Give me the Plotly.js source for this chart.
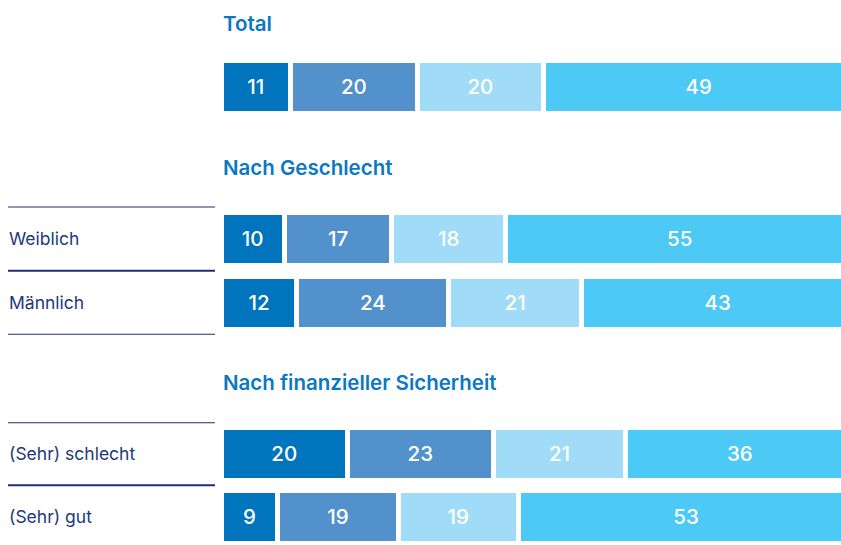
<!DOCTYPE html>
<html>
<head>
<meta charset="utf-8">
<script src="https://cdn.plot.ly/plotly-3.0.1.min.js"></script>
<style>html,body{margin:0;padding:0;background:#fff;}#chart{width:841px;height:545px;}</style>
</head>
<body>
<div id="chart"></div>
<script>
// ---- data ----
var rows = ["Total", "Weiblich", "Männlich", "(Sehr) schlecht", "(Sehr) gut"];
var rowGroup = ["Total", "Nach Geschlecht", "Nach Geschlecht", "Nach finanzieller Sicherheit", "Nach finanzieller Sicherheit"];
var groups = ["Total", "Nach Geschlecht", "Nach finanzieller Sicherheit"];
var seriesNames = ["Kategorie 1", "Kategorie 2", "Kategorie 3", "Kategorie 4"];
var series1 = [11, 10, 12, 20, 9];
var series2 = [20, 17, 24, 23, 19];
var series3 = [20, 18, 21, 21, 19];
var series4 = [49, 55, 43, 36, 53];

// ---- styles ----
var colors = ["#0074bd", "#5391cc", "#a0dcf7", "#4cc9f4"];
var FONT = "Inter, 'Noto Sans', Arial, sans-serif";
var H = 545, L = 221, PW = 620;
var axisIds = ["y", "y2", "y3"];
var barWidths = [0.83, 0.83, 0.84];

var allSeries = [series1, series2, series3, series4];
var traces = [];
groups.forEach(function (g, gi) {
  var idx = [];
  rowGroup.forEach(function (rg, i) { if (rg === g) idx.push(i); });
  allSeries.forEach(function (s, si) {
    var xs = idx.map(function (i) { return s[i]; });
    var ys = idx.map(function (i) { return rows[i]; });
    traces.push({
      type: "bar", orientation: "h",
      x: xs, y: ys, name: seriesNames[si],
      xaxis: "x", yaxis: axisIds[gi],
      width: barWidths[gi],
      marker: { color: colors[si], line: { color: "#ffffff", width: 5 } },
      text: xs.map(String),
      textposition: "inside", insidetextanchor: "middle", textangle: 0,
      constraintext: "none",
      textfont: { color: "#ffffff", size: 20.5, family: FONT, weight: 500 },
      showlegend: false, hoverinfo: "x+y+name"
    });
  });
});

function py(px) { return 1 - px / H; }
function ycat(axisKey, cats, topPx, pitch, bottomPx) {
  var n = (bottomPx - topPx) / pitch;
  return {
    domain: [py(bottomPx), py(topPx)],
    type: "category", categoryorder: "array", categoryarray: cats,
    range: [-0.5 + n, -0.5],
    anchor: "x", showticklabels: false, showgrid: false, zeroline: false, showline: false, ticks: "", fixedrange: true
  };
}

var gCats = groups.map(function (g) { return rows.filter(function (r, i) { return rowGroup[i] === g; }); });

var layout = {
  width: 841, height: 545,
  margin: { l: L, r: 0, t: 0, b: 0, pad: 0 },
  paper_bgcolor: "#ffffff", plot_bgcolor: "#ffffff",
  barmode: "stack",
  showlegend: false,
  xaxis: { range: [0, 98], showticklabels: false, showgrid: false, zeroline: false, showline: false, ticks: "", fixedrange: true, anchor: "y" },
  yaxis: ycat("y", gCats[0], 54.7, 64.1, 118.8),
  yaxis2: ycat("y2", gCats[1], 206.6, 64.05, 334.7),
  yaxis3: ycat("y3", gCats[2], 422.3, 63, 545),
  annotations: [],
  shapes: []
};

// section headings
var headingPx = [23.3, 167, 382];
groups.forEach(function (g, gi) {
  layout.annotations.push({
    text: g, xref: "paper", yref: "paper",
    x: (222.5 - L) / PW, y: py(headingPx[gi]), xanchor: "left", yanchor: "middle",
    showarrow: false, borderpad: 0, borderwidth: 0,
    font: { family: FONT, size: 20.5, color: "#0a78c2", weight: 600 }
  });
});

// row labels and separator lines
[1, 2].forEach(function (gi) {
  var cats = gCats[gi];
  cats.forEach(function (c, ci) {
    layout.annotations.push({
      text: c, xref: "paper", yref: axisIds[gi],
      x: (8.5 - L) / PW, y: c, xanchor: "left", yanchor: "middle",
      showarrow: false, borderpad: 0, borderwidth: 0,
      font: { family: FONT, size: 17.5, color: "#22397a" }
    });
  });
  for (var k = 0; k <= cats.length; k++) {
    if (gi === 2 && k === cats.length) continue;
    layout.shapes.push({
      type: "line", xref: "paper", yref: axisIds[gi],
      x0: (8 - L) / PW, x1: (215 - L) / PW, y0: k - 0.5, y1: k - 0.5,
      line: { color: "#1c2f72", width: 2 }
    });
  }
});

Plotly.newPlot("chart", traces, layout, { displayModeBar: false, staticPlot: true });
</script>
</body>
</html>
